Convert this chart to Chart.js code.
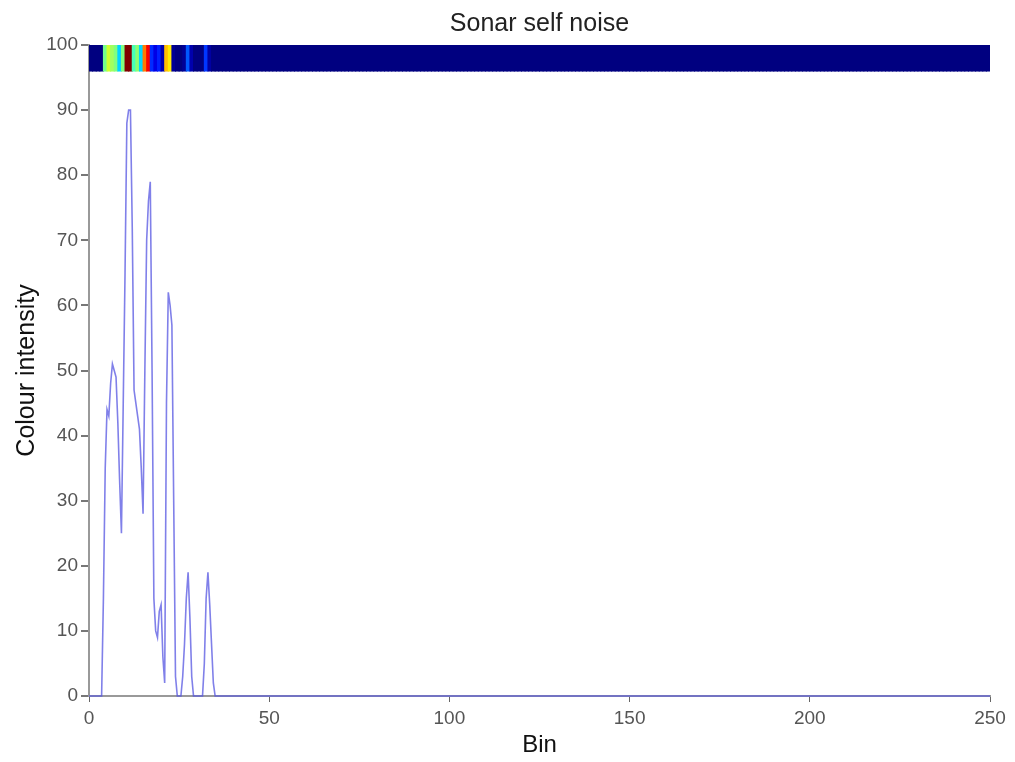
<!DOCTYPE html>
<html>
<head>
<meta charset="utf-8">
<script src="https://cdn.jsdelivr.net/npm/chart.js@4.4.1/dist/chart.umd.min.js"></script>
<style>
  html, body { margin: 0; padding: 0; background: #ffffff; }
  #wrap { width: 1015px; height: 762px; }
</style>
</head>
<body>
<div id="wrap"><canvas id="c" width="1015" height="762"></canvas></div>
<script>
// ---- data ----
const chartTitle = 'Sonar self noise';
const xTitle = 'Bin';
const yTitle = 'Colour intensity';

// intensity curve (bin position, value)
const lineBins = [0,3.5,4,4.5,5,5.5,6,6.5,7,7.5,8,8.5,9,9.5,10,10.5,11,11.5,12,12.5,13,13.5,14,14.5,15,15.5,16,16.5,17,17.5,18,18.5,19,19.5,20,20.5,21,21.5,22,22.5,23,23.5,24,24.5,25.5,26,26.5,27,27.5,28,28.5,29,31.5,32,32.5,33,33.5,34,34.5,35,250];
const lineValues = [0,0,15,35,44,43,48,51,50,49,42,33,25,45,65,88,90,90,72,47,45,43,41,35,28,50,70,76,79,50,15,10,9,13,14,6,2,45,62,60,57,30,3,0,0,3,8,15,19,12,3,0,0,5,15,19,14,8,2,0,0];

// colour strip: one value per bin (bins 0..34 read, bins 35..249 are zero)
const stripHead = [0,0,0,0,44,52,48,45,30,45,90,90,40,46,30,68,79,15,9,14,4,62,58,2,0,0,2,19,4,0,0,0,16,3,0];
const stripValues = stripHead.concat(new Array(250 - stripHead.length).fill(0));
const stripMax = 90;
const stripRange = [96, 100];

const xRange = [0, 250];
const xStep = 50;
const yRange = [0, 100];
const yStep = 10;

// ---- helpers ----
function jet(t) {
  const c = v => Math.max(0, Math.min(1, v));
  const r = c(1.5 - Math.abs(4 * t - 3));
  const g = c(1.5 - Math.abs(4 * t - 2));
  const b = c(1.5 - Math.abs(4 * t - 1));
  return `rgb(${Math.round(r * 255)},${Math.round(g * 255)},${Math.round(b * 255)})`;
}

const linePoints = lineBins.map((b, i) => ({ x: b, y: lineValues[i] }));
const stripPoints = stripValues.map((v, i) => ({ x: i + 0.5, y: stripRange }));
const stripColors = stripValues.map(v => jet(v / stripMax));

Chart.defaults.font.family = '"Liberation Sans", Arial, sans-serif';
Chart.defaults.color = '#555';

new Chart(document.getElementById('c'), {
  type: 'line',
  data: {
    datasets: [
      {
        type: 'line',
        data: linePoints,
        borderColor: 'rgba(85,85,225,0.75)',
        borderWidth: 1.6,
        pointRadius: 0,
        tension: 0,
        fill: false,
        clip: false,
        order: 0
      },
      {
        type: 'bar',
        data: stripPoints,
        backgroundColor: stripColors,
        borderWidth: 0,
        barPercentage: 1,
        categoryPercentage: 1,
        grouped: false,
        inflateAmount: 0.5,
        order: 1
      }
    ]
  },
  options: {
    responsive: false,
    animation: false,
    events: [],
    layout: { padding: { left: 0, right: 25, top: 0, bottom: 0 } },
    plugins: {
      legend: { display: false },
      tooltip: { enabled: false },
      title: { display: false }
    },
    scales: {
      x: {
        type: 'linear',
        min: xRange[0],
        max: xRange[1],
        offset: false,
        afterFit: s => { s.height = 66; },
        ticks: { stepSize: xStep, font: { size: 19 }, color: '#555', padding: 5, maxRotation: 0, autoSkip: false },
        grid: { offset: false, drawOnChartArea: false, drawTicks: true, tickLength: 6, color: '#666', lineWidth: 1 },
        border: { display: true, color: '#999', width: 2 },
        title: { display: true, text: xTitle, color: '#111', font: { size: 24 }, padding: { top: 0, bottom: 2 } }
      },
      xTop: {
        type: 'linear',
        position: 'top',
        min: xRange[0],
        max: xRange[1],
        offset: false,
        afterFit: s => { s.height = 45; },
        ticks: { display: false },
        grid: { display: false, drawTicks: false, offset: false },
        border: { display: false },
        title: { display: true, text: chartTitle, color: '#222', font: { size: 25 }, padding: { top: 9, bottom: 0 } }
      },
      y: {
        type: 'linear',
        min: yRange[0],
        max: yRange[1],
        afterFit: s => { s.width = 89; },
        ticks: { stepSize: yStep, font: { size: 19 }, color: '#555', padding: 3 },
        grid: { drawOnChartArea: false, drawTicks: true, tickLength: 8, color: '#777', lineWidth: 2 },
        border: { display: true, color: '#999', width: 2 },
        title: { display: true, text: yTitle, color: '#111', font: { size: 25 }, padding: { top: 12, bottom: 0 } }
      }
    }
  }
});
</script>
</body>
</html>
